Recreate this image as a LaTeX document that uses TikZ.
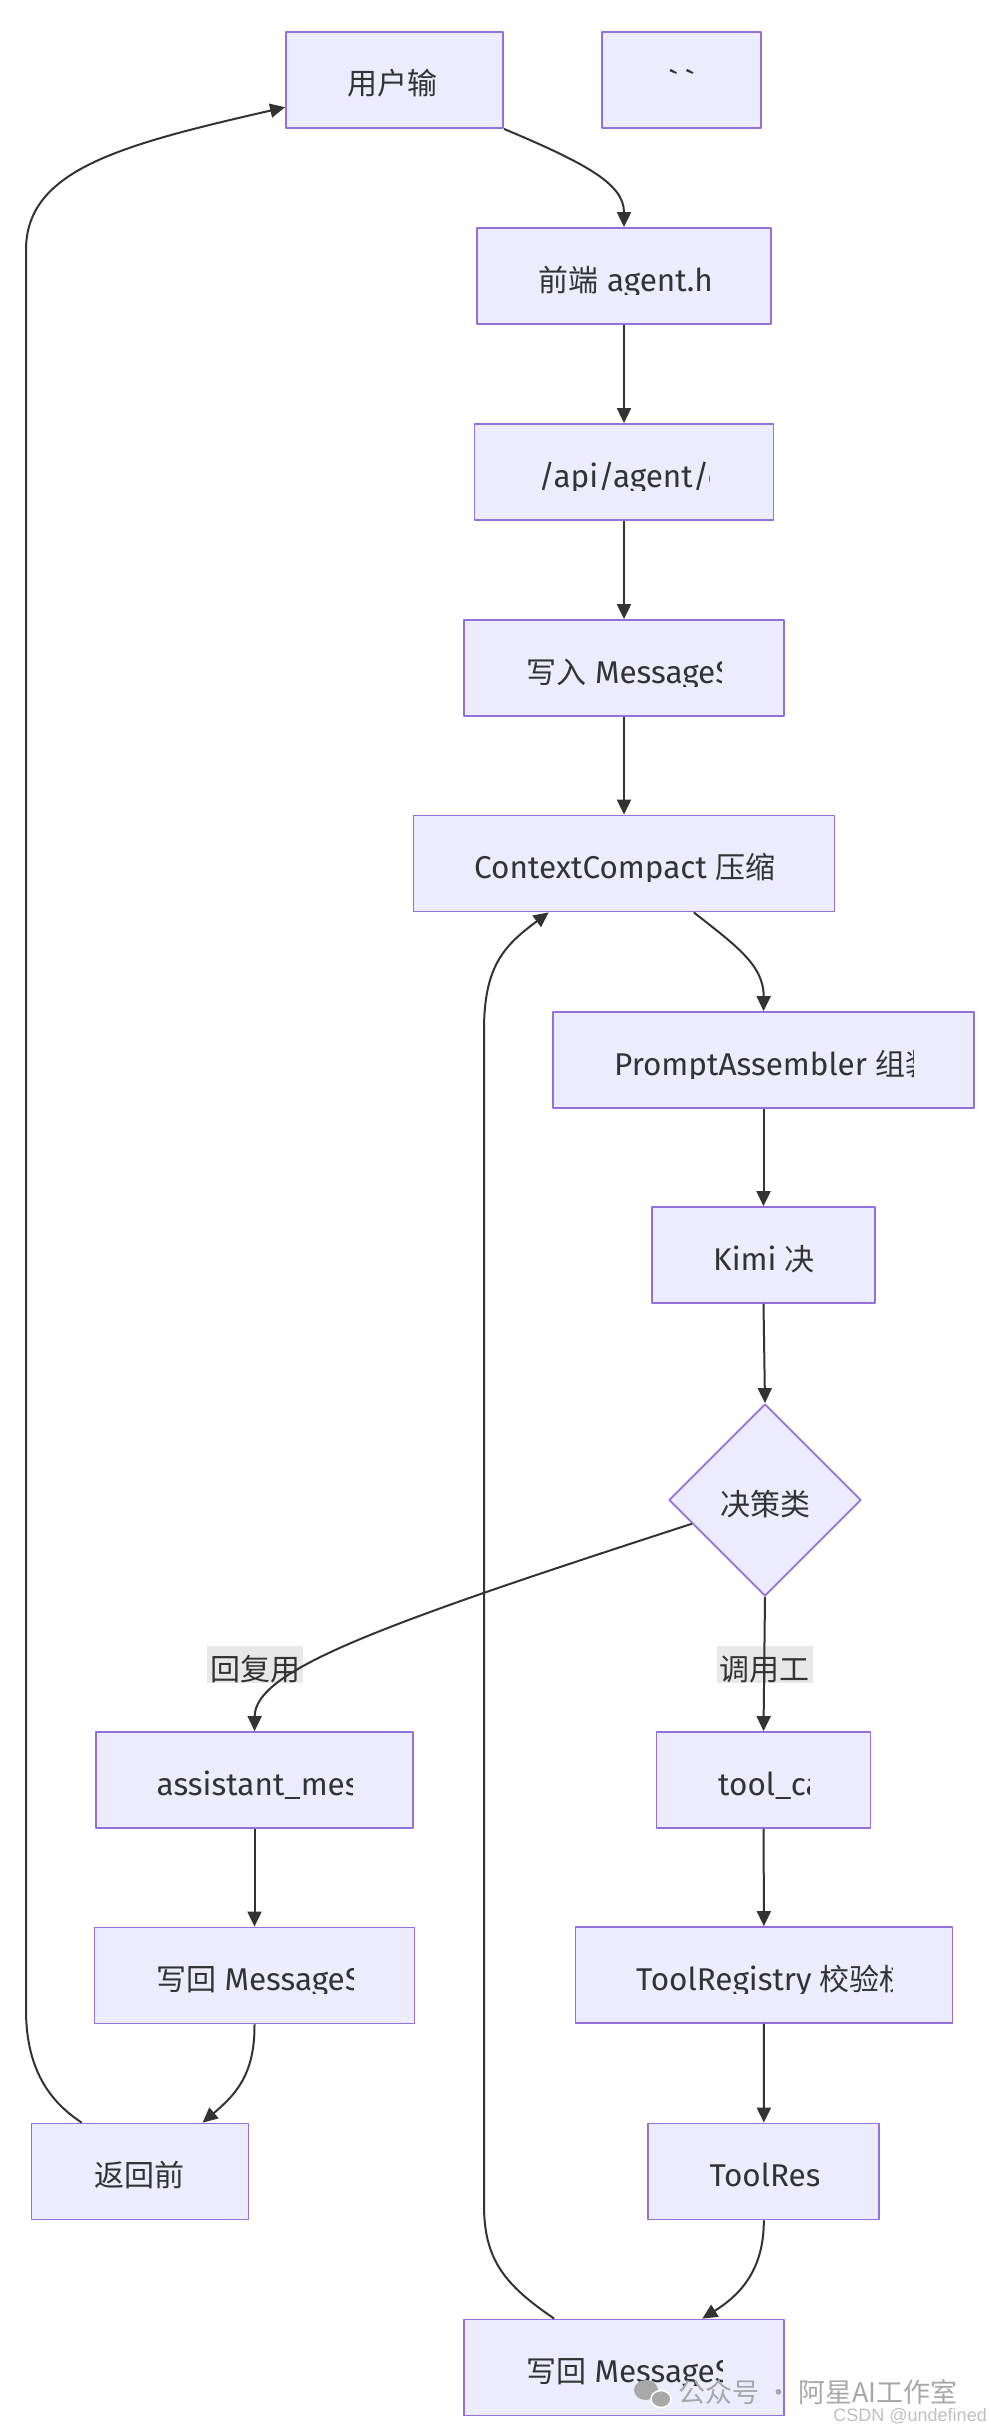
\documentclass[tikz,border=0pt]{standalone}
\usepackage{fontspec}
\usetikzlibrary{arrows.meta,shapes.geometric}
\newfontfamily\mmlatin{Fira Sans}
\newfontfamily\mmcjk{Noto Sans CJK SC}
\newfontfamily\wmfont{Liberation Sans}
\definecolor{boxfill}{HTML}{ECECFF}
\definecolor{boxline}{HTML}{9370DB}
\definecolor{edgecol}{HTML}{333333}
\definecolor{lblbg}{HTML}{E8E8E8}
\definecolor{wmgray}{HTML}{A8A8A8}
\newcommand{\zh}[1]{{\mmcjk\fontsize{30}{36}\selectfont #1}}
% label cut to the visible width of the box text
\newcommand{\cutlabel}[3]{%
	\begin{scope}
		\clip ([xshift=-#2/2*1pt, yshift=32pt]#1.center) rectangle ([xshift=#2/2*1pt, yshift=-18pt]#1.center);
		\node[txt, anchor=base west] (#1-t) at ([xshift=-#2/2*1pt, yshift=-15pt]#1.center) {#3};
	\end{scope}}
\begin{document}
\begin{tikzpicture}[x=1pt, y=-1pt, >={Triangle[length=15pt,width=14pt]}, font=\mmlatin\fontsize{31.5}{38}\selectfont, line join=round,
	box/.style={draw=boxline, fill=boxfill, line width=1.8pt, minimum height=96pt, inner sep=0pt, text=edgecol},
	txt/.style={text=edgecol, inner sep=0pt},
	elbl/.style={fill=lblbg, text=edgecol, minimum width=96pt, minimum height=37pt, inner sep=0pt, text height=32pt, text depth=0pt},
	link/.style={->, draw=edgecol, line width=2pt}]
	\useasboundingbox (0,0) rectangle (990,2432);
	%\draw[gray!30] (0,0) grid[step=100] (990,2432);
	% boxes
	\node[box, minimum width=217pt] (usr) at (394.5,80) {};
	\node[box, minimum width=159pt] (tick) at (681.5,80) {};
	\node[box, minimum width=294pt] (fe) at (624,276) {};
	\node[box, minimum width=299pt] (api) at (624,472) {};
	\node[box, minimum width=320pt] (wr) at (624,668) {};
	\node[box, minimum width=421pt] (cc) at (624,863.5) {};
	\node[box, minimum width=421pt] (pa) at (763.5,1060) {};
	\node[box, minimum width=223pt] (km) at (763.5,1255) {};
	\node[box, diamond, minimum width=192pt, minimum height=192pt] (dec) at (765,1500) {};
	\node[box, minimum width=317pt] (am) at (254.5,1780) {};
	\node[box, minimum width=214pt] (tc) at (763.5,1780) {};
	\node[box, minimum width=320pt] (wl) at (254.5,1975.5) {};
	\node[box, minimum width=377pt] (tr) at (764,1975) {};
	\node[box, minimum width=217pt] (rt) at (140,2171.5) {};
	\node[box, minimum width=231pt] (res) at (763.8,2171.5) {};
	\node[box, minimum width=320pt] (wb) at (624,2367.5) {};
	% texts
	\cutlabel{usr}{94}{\zh{用户输}}
	\node[txt, anchor=base] (tick-t) at ([yshift=-15pt]tick.center) {`\hspace{7pt}`};
	\cutlabel{fe}{171}{\zh{前端} agent.h}
	\cutlabel{api}{171}{/api/agent/c}
	\cutlabel{wr}{195}{\zh{写入} MessageS}
	\cutlabel{cc}{300}{ContextCompact \zh{压缩}}
	\cutlabel{pa}{299}{PromptAssembler \zh{组装}}
	\cutlabel{km}{101}{Kimi \zh{决}}
	\node[txt, anchor=base] (dec-t) at ([yshift=-15pt]dec.center) {\zh{决策类}};
	\cutlabel{am}{196}{assistant\_mes}
	\cutlabel{tc}{91}{tool\_ca}
	\cutlabel{wl}{197}{\zh{写回} MessageS}
	\cutlabel{tr}{256}{ToolRegistry \zh{校验权}}
	\cutlabel{rt}{92}{\zh{返回前}}
	\cutlabel{res}{109}{ToolResu}
	\cutlabel{wb}{196}{\zh{写回} MessageS}
	% edge labels
	\node[elbl] (lreply) at (255,1664) {\zh{回复用}};
	\node[elbl] (lcall) at (764.5,1664) {\zh{调用工}};
	% edges
	\draw[link] (usr.south east) .. controls (590,165) and (624,185) .. (fe.north);
	\draw[link] (fe) -- (api);
	\draw[link] (api) -- (wr);
	\draw[link] (wr) -- (cc);
	\draw[link] (cc.-35) .. controls (735,945) and (764,965) .. (pa.north);
	\draw[link] (pa) -- (km);
	\draw[link] (km.south) -- (dec.north);
	\draw[link] (dec.198) .. controls (380,1625) and (255,1670) .. (am.north);
	\draw[link] (dec.south) -- (tc.north);
	\draw[link] (am) -- (wl);
	\draw[link] (wl.south) .. controls (255,2075) and (235,2095) .. (rt.38);
	\draw[link] (tc) -- (tr);
	\draw[link] (tr) -- (res);
	\draw[link] (res.south) .. controls (764,2270) and (740,2295) .. (wb.32);
	\draw[link] (rt.140) .. controls (55,2105) and (26,2075) .. (26,2010) -- (26,250) .. controls (26,170) and (120,145) .. (usr.194);
	\draw[link] (wb.145) .. controls (505,2285) and (484,2260) .. (484,2205) -- (484,1030) .. controls (484,965) and (505,945) .. (cc.213);
	% watermark
	\fill[wmgray] (646,2390) ellipse (12 and 10);
	\draw[white, line width=1.5pt, fill=wmgray] (661,2399) ellipse (10 and 8.5);
	\node[text=wmgray, font=\mmcjk\fontsize{27}{30}\selectfont, anchor=west, inner sep=0pt] (wm) at (678,2392) {公众号 · 阿星AI工作室};
	\node[text=gray!50, font=\wmfont\fontsize{18}{20}\selectfont, anchor=east, inner sep=0pt] (csdn) at (987,2416) {CSDN @undefined};
\end{tikzpicture}
\end{document}
